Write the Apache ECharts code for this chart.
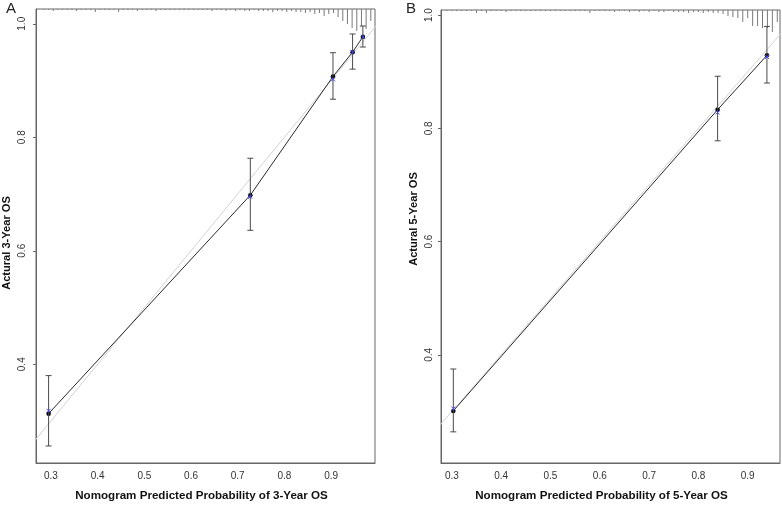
<!DOCTYPE html>
<html><head><meta charset="utf-8">
<script src="https://cdn.jsdelivr.net/npm/echarts@6/dist/echarts.min.js"></script>
<style>html,body{margin:0;padding:0;background:#fff}#c{width:782px;height:506px}</style>
</head><body><div id="c"></div>
<script>
// ---------- Panel A (3-year OS) ----------
const predA  = [0.295, 0.727, 0.904, 0.946, 0.968];
const obsA   = [0.313, 0.698, 0.907, 0.950, 0.977];
const corrA  = [0.318, 0.695, 0.902, 0.950, 0.977];
const lowerA = [0.256, 0.636, 0.867, 0.920, 0.959];
const upperA = [0.380, 0.763, 0.949, 0.982, 0.996];
const rugXA = [0.285,0.295,0.305,0.315,0.325,0.335,0.345,0.355,0.365,0.375,
  0.385,0.395,0.405,0.415,0.425,0.435,0.445,0.455,0.465,0.475,
  0.485,0.495,0.505,0.515,0.525,0.535,0.545,0.555,0.565,0.575,
  0.585,0.595,0.605,0.615,0.625,0.635,0.645,0.655,0.665,0.675,
  0.685,0.695,0.705,0.715,0.725,0.735,0.745,0.755,0.765,0.775,
  0.785,0.795,0.805,0.815,0.825,0.835,0.845,0.855,0.865,0.875,
  0.885,0.895,0.905,0.915,0.925,0.935,0.945,0.955,0.965,0.975,0.985];
const rugCountA = [1,1,2,1,1,1,1,2,1,1,
  1,3,1,1,1,1,3,1,1,1,
  2,1,1,1,2,1,1,1,1,1,
  1,1,1,1,1,1,2,1,1,2,
  1,2,1,2,2,1,2,2,2,3,
  2,2,3,2,3,3,4,3,5,4,
  7,5,4,8,12,15,19,22,17,20,12];

// ---------- Panel B (5-year OS) ----------
const predB  = [0.303, 0.839, 0.939];
const obsB   = [0.301, 0.833, 0.929];
const corrB  = [0.305, 0.828, 0.926];
const lowerB = [0.264, 0.778, 0.880];
const upperB = [0.375, 0.892, 0.980];
const rugXB = [0.29,0.30,0.31,0.32,0.33,0.34,0.35,0.36,0.37,0.38,
  0.39,0.40,0.41,0.42,0.43,0.44,0.45,0.46,0.47,0.48,
  0.49,0.50,0.51,0.52,0.53,0.54,0.55,0.56,0.57,0.58,
  0.59,0.60,0.61,0.62,0.63,0.64,0.65,0.66,0.67,0.68,
  0.69,0.70,0.71,0.72,0.73,0.74,0.75,0.76,0.77,0.78,
  0.79,0.80,0.81,0.82,0.83,0.84,0.85,0.86,0.87,0.88,
  0.89,0.90,0.91,0.92,0.93,0.94,0.95,0.96];
const rugCountB = [1,1,1,1,1,1,3,1,3,1,
  1,1,2,1,1,1,1,1,1,1,
  1,1,1,1,1,1,1,1,1,3,
  1,1,1,1,2,1,1,2,1,2,
  1,2,1,2,2,1,2,2,2,3,
  2,2,3,2,3,3,4,6,7,8,
  12,8,16,16,18,18,22,12];

// ---------- Axes ----------
const xTicks = [0.3,0.4,0.5,0.6,0.7,0.8,0.9];
const yTicks = [0.4,0.6,0.8,1.0];
const ideal  = [0, 1.2];
const xNameA = 'Nomogram Predicted Probability of 3-Year OS';
const xNameB = 'Nomogram Predicted Probability of 5-Year OS';
const yNameA = 'Actural 3-Year OS';
const yNameB = 'Actural 5-Year OS';

const FONT = 'Liberation Sans, Arial, Helvetica, sans-serif';
const AX = '#666666';

function errRender(params, api){
  const x = api.value(0), lo = api.value(1), hi = api.value(2);
  const a = api.coord([x, hi]), b = api.coord([x, lo]);
  const cw = 3;
  const st = {stroke:'#4a4a4a', lineWidth:1};
  return {type:'group', children:[
    {type:'line', shape:{x1:a[0],y1:a[1],x2:b[0],y2:b[1]}, style:st},
    {type:'line', shape:{x1:a[0]-cw,y1:a[1],x2:a[0]+cw,y2:a[1]}, style:st},
    {type:'line', shape:{x1:b[0]-cw,y1:b[1],x2:b[0]+cw,y2:b[1]}, style:st}
  ]};
}
function crossRender(params, api){
  const p = api.coord([api.value(0), api.value(1)]);
  const s = 2;
  const st = {stroke:'#4646ff', lineWidth:1};
  return {type:'group', children:[
    {type:'line', shape:{x1:p[0]-s,y1:p[1]-s,x2:p[0]+s,y2:p[1]+s}, style:st},
    {type:'line', shape:{x1:p[0]-s,y1:p[1]+s,x2:p[0]+s,y2:p[1]-s}, style:st}
  ]};
}

function xAxisDef(gi, min, max, name, pad){
  return {type:'value', gridIndex:gi, min:min, max:max,
    axisLine:{show:true, onZero:false, lineStyle:{color:AX, width:1}},
    axisTick:{show:false},
    splitLine:{show:false},
    axisLabel:{customValues:xTicks, formatter:v=>v.toFixed(1), color:'#333', fontSize:10, margin:8, fontFamily:FONT},
    name:name, nameLocation:'middle', nameGap:27,
    nameTextStyle:{fontWeight:'bold', fontSize:11.6, color:'#111', fontFamily:FONT, padding:pad}};
}
function yAxisDef(gi, min, max, name, gap, labMargin, pad){
  return {type:'value', gridIndex:gi, min:min, max:max,
    axisLine:{show:true, onZero:false, lineStyle:{color:AX, width:1}},
    axisTick:{show:true, length:3, customValues:yTicks, lineStyle:{color:AX}},
    splitLine:{show:false},
    axisLabel:{customValues:yTicks, formatter:v=>v.toFixed(1), rotate:90, color:'#333', fontSize:10, margin:labMargin, fontFamily:FONT},
    name:name, nameLocation:'middle', nameGap:gap, nameRotate:90,
    nameTextStyle:{fontWeight:'bold', fontSize:11.1, color:'#111', fontFamily:FONT, padding:pad}};
}
function rugAxis(gi){
  return {type:'value', gridIndex:gi, inverse:true, min:0, max:454, show:false, splitLine:{show:false}};
}

function panelSeries(xi, yi, yr, pred, obs, corr, lower, upper, rugX, rugC){
  return [
    {type:'line', xAxisIndex:xi, yAxisIndex:yi, data:ideal.map(v=>[v,v]), symbol:'none', silent:true,
      lineStyle:{color:'#d2d2d2', width:1}, clip:true, z:1},
    {type:'bar', xAxisIndex:xi, yAxisIndex:yr, data:rugX.map((x,i)=>[x, rugC[i]]), barWidth:1, silent:true,
      itemStyle:{color:'#7a7a7a'}, z:2},
    {type:'line', xAxisIndex:xi, yAxisIndex:yi, data:pred.map((x,i)=>[x, obs[i]]), symbol:'circle', symbolSize:4.5,
      showSymbol:true, lineStyle:{color:'#2a2a2a', width:1}, itemStyle:{color:'#000'}, z:3, silent:true},
    {type:'custom', xAxisIndex:xi, yAxisIndex:yi, renderItem:errRender, data:pred.map((x,i)=>[x, lower[i], upper[i]]),
      encode:{x:0, y:[1,2]}, z:4, silent:true},
    {type:'custom', xAxisIndex:xi, yAxisIndex:yi, renderItem:crossRender, data:pred.map((x,i)=>[x, corr[i]]),
      encode:{x:0, y:1}, z:5, silent:true}
  ];
}

const option = {
  animation:false,
  backgroundColor:'#fff',
  textStyle:{fontFamily:FONT},
  grid:[
    {left:36, top:9, width:339, height:454, show:true, borderColor:AX, borderWidth:1, containLabel:false, outerBoundsMode:'none'},
    {left:441, top:10, width:339, height:453, show:true, borderColor:AX, borderWidth:1, containLabel:false, outerBoundsMode:'none'}
  ],
  xAxis:[
    xAxisDef(0, 0.268, 0.994, xNameA, [0,8,0,0]),
    xAxisDef(1, 0.278, 0.9655, xNameB, [0,18,0,0])
  ],
  yAxis:[
    yAxisDef(0, 0.226, 1.026, yNameA, 24, 9, [0,14,0,0]),
    rugAxis(0),
    yAxisDef(1, 0.209, 1.009, yNameB, 22, 7, [0,0,0,35]),
    rugAxis(1)
  ],
  graphic:[
    {type:'text', left:6, top:1, style:{text:'A', fontSize:15, fill:'#222', fontFamily:FONT}},
    {type:'text', left:406, top:1, style:{text:'B', fontSize:15, fill:'#222', fontFamily:FONT}}
  ],
  series:[].concat(
    panelSeries(0, 0, 1, predA, obsA, corrA, lowerA, upperA, rugXA, rugCountA),
    panelSeries(1, 2, 3, predB, obsB, corrB, lowerB, upperB, rugXB, rugCountB)
  )
};
const chart = echarts.init(document.getElementById('c'), null, {renderer:'canvas'});
chart.setOption(option);
</script></body></html>
